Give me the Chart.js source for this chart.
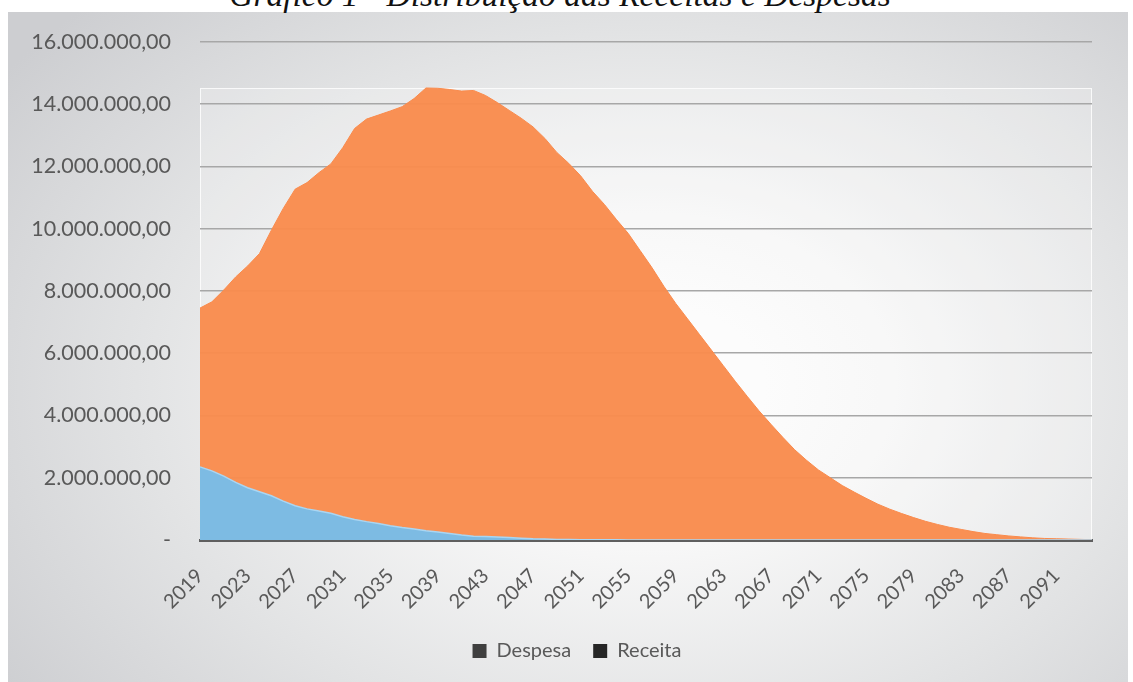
<!DOCTYPE html>
<html>
<head>
<meta charset="utf-8">
<script src="https://cdn.jsdelivr.net/npm/chart.js@4.4.1/dist/chart.umd.min.js"></script>
<style>
  html, body { margin: 0; padding: 0; background: #fff; }
  body { width: 1133px; height: 682px; position: relative; overflow: hidden; }
  #frame {
    position: absolute; left: 8px; top: 12px; width: 1120px; height: 680px;
    background: radial-gradient(ellipse 70% 80% at 57% 55%, #ffffff 0%, #f7f7f7 30%, #e2e3e4 65%, #cdced1 100%);
  }
  #title {
    position: absolute; left: 0; top: -21px; width: 1120px; text-align: center;
    font: italic 33.5px "Liberation Serif", serif; line-height: 32px; color: #111;
  }
  #wrap { position: absolute; left: 0; top: 0; width: 1133px; height: 682px; }
</style>
</head>
<body>
<div id="frame"></div>
<div id="title">Gráfico 1 - Distribuição das Receitas e Despesas</div>
<div id="wrap"><canvas id="chart"></canvas></div>
<script>
// years on the category axis
const years = [
  '2019','2020','2021','2022','2023','2024','2025','2026','2027','2028',
  '2029','2030','2031','2032','2033','2034','2035','2036','2037','2038',
  '2039','2040','2041','2042','2043','2044','2045','2046','2047','2048',
  '2049','2050','2051','2052','2053','2054','2055','2056','2057','2058',
  '2059','2060','2061','2062','2063','2064','2065','2066','2067','2068',
  '2069','2070','2071','2072','2073','2074','2075','2076','2077','2078',
  '2079','2080','2081','2082','2083','2084','2085','2086','2087','2088',
  '2089','2090','2091','2092','2093','2094'
];

// Despesa (orange area)
const despesa = [
  7450000, 7650000, 8030000, 8450000, 8800000, 9200000, 9950000, 10650000, 11270000, 11480000,
  11800000, 12080000, 12600000, 13220000, 13520000, 13650000, 13780000, 13920000, 14180000, 14520000,
  14510000, 14470000, 14420000, 14440000, 14280000, 14050000, 13800000, 13550000, 13270000, 12900000,
  12450000, 12100000, 11700000, 11200000, 10780000, 10300000, 9850000, 9300000, 8750000, 8150000,
  7600000, 7100000, 6600000, 6100000, 5600000, 5100000, 4620000, 4150000, 3720000, 3300000,
  2900000, 2560000, 2250000, 2000000, 1750000, 1540000, 1340000, 1150000, 990000, 850000,
  720000, 600000, 500000, 410000, 340000, 270000, 210000, 170000, 130000, 100000,
  70000, 50000, 40000, 30000, 20000, 10000
];

// Receita (blue area)
const receita = [
  2350000, 2220000, 2050000, 1850000, 1680000, 1550000, 1420000, 1250000, 1100000, 1000000,
  930000, 860000, 750000, 660000, 590000, 530000, 460000, 400000, 350000, 300000,
  260000, 210000, 160000, 120000, 110000, 100000, 80000, 60000, 40000, 30000,
  20000, 15000, 10000, 8000, 6000, 5000, 4000, 3000, 2000, 1000,
  0, 0, 0, 0, 0, 0, 0, 0, 0, 0,
  0, 0, 0, 0, 0, 0, 0, 0, 0, 0,
  0, 0, 0, 0, 0, 0, 0, 0, 0, 0,
  0, 0, 0, 0, 0, 0
];

const yTicks = [0, 2000000, 4000000, 6000000, 8000000, 10000000, 12000000, 14000000, 16000000];

const textColor = '#595959';
const fontFamily = 'Lato, "Liberation Sans", sans-serif';

// 16.000.000,00 style numbers, zero shown as a dash
function formatBR(v) {
  if (v === 0) return '-';
  return v.toFixed(2).replace('.', ',').replace(/\B(?=(\d{3})+(?!\d))/g, '.');
}

// light plot-area panel behind the grid
const plotPanel = {
  id: 'plotPanel',
  beforeDraw(chart) {
    const { ctx, chartArea, scales } = chart;
    const top = scales.y.getPixelForValue(Math.max(...despesa));
    ctx.save();
    ctx.fillStyle = 'rgba(255,255,255,0.22)';
    ctx.fillRect(chartArea.left, top, chartArea.right - chartArea.left, chartArea.bottom - top);
    ctx.strokeStyle = 'rgba(255,255,255,0.8)';
    ctx.lineWidth = 1;
    ctx.strokeRect(chartArea.left + 0.5, top + 0.5, chartArea.right - chartArea.left - 1, chartArea.bottom - top);
    ctx.restore();
  }
};

// nudge the legend so it sits where the original one is
const legendShift = {
  id: 'legendShift',
  afterLayout(chart) {
    chart.legend.left += 27;
    chart.legend.right += 27;
  }
};

const ctx = document.getElementById('chart').getContext('2d');
const chart = new Chart(ctx, {
  type: 'line',
  data: {
    labels: years,
    datasets: [
      {
        label: 'Despesa',
        data: despesa,
        order: 1,
        fill: 'origin',
        backgroundColor: 'rgba(249,139,77,0.96)',
        borderColor: '#f98b4d',
        borderWidth: 1,
        pointRadius: 0,
        tension: 0
      },
      {
        label: 'Receita',
        data: receita,
        order: 0,
        fill: 'origin',
        backgroundColor: 'rgba(121,189,232,0.97)',
        borderColor: '#a9d6f3',
        borderWidth: 1.5,
        pointRadius: 0,
        tension: 0
      }
    ]
  },
  options: {
    responsive: true,
    maintainAspectRatio: false,
    animation: false,
    layout: { padding: { left: 8, right: 41, top: 41, bottom: 11 } },
    plugins: {
      title: { display: false },
      tooltip: { enabled: false },
      legend: {
        position: 'bottom',
        labels: {
          color: textColor,
          font: { family: fontFamily, size: 20 },
          boxWidth: 14,
          boxHeight: 14,
          padding: 22,
          sort: (a, b) => a.datasetIndex - b.datasetIndex,
          generateLabels(chart) {
            const dark = ['#3f3f3f', '#262626'];
            return chart.data.datasets.map((ds, i) => ({
              text: ds.label,
              fillStyle: dark[i],
              strokeStyle: dark[i],
              lineWidth: 0,
              fontColor: textColor,
              datasetIndex: i,
              hidden: false
            }));
          }
        }
      }
    },
    scales: {
      x: {
        grid: { display: false },
        border: { display: true, color: '#5f5f5f', width: 3 },
        ticks: {
          autoSkip: false,
          minRotation: 45,
          maxRotation: 45,
          padding: 16,
          color: textColor,
          font: { family: fontFamily, size: 20 },
          callback(val, i) { return i % 4 === 0 ? years[i] : ''; }
        },
        afterFit(scale) { scale.height = 79; }
      },
      y: {
        min: 0,
        max: 16000000,
        afterBuildTicks(scale) { scale.ticks = yTicks.map(v => ({ value: v })); },
        grid: { color: '#a7a7a7', lineWidth: 1.5, drawTicks: false },
        border: { display: false },
        ticks: {
          padding: 29,
          color: textColor,
          font: { family: fontFamily, size: 21.5 },
          callback: v => formatBR(v)
        },
        afterFit(scale) { scale.width = 192; }
      }
    }
  },
  plugins: [plotPanel, legendShift]
});
</script>
</body>
</html>
